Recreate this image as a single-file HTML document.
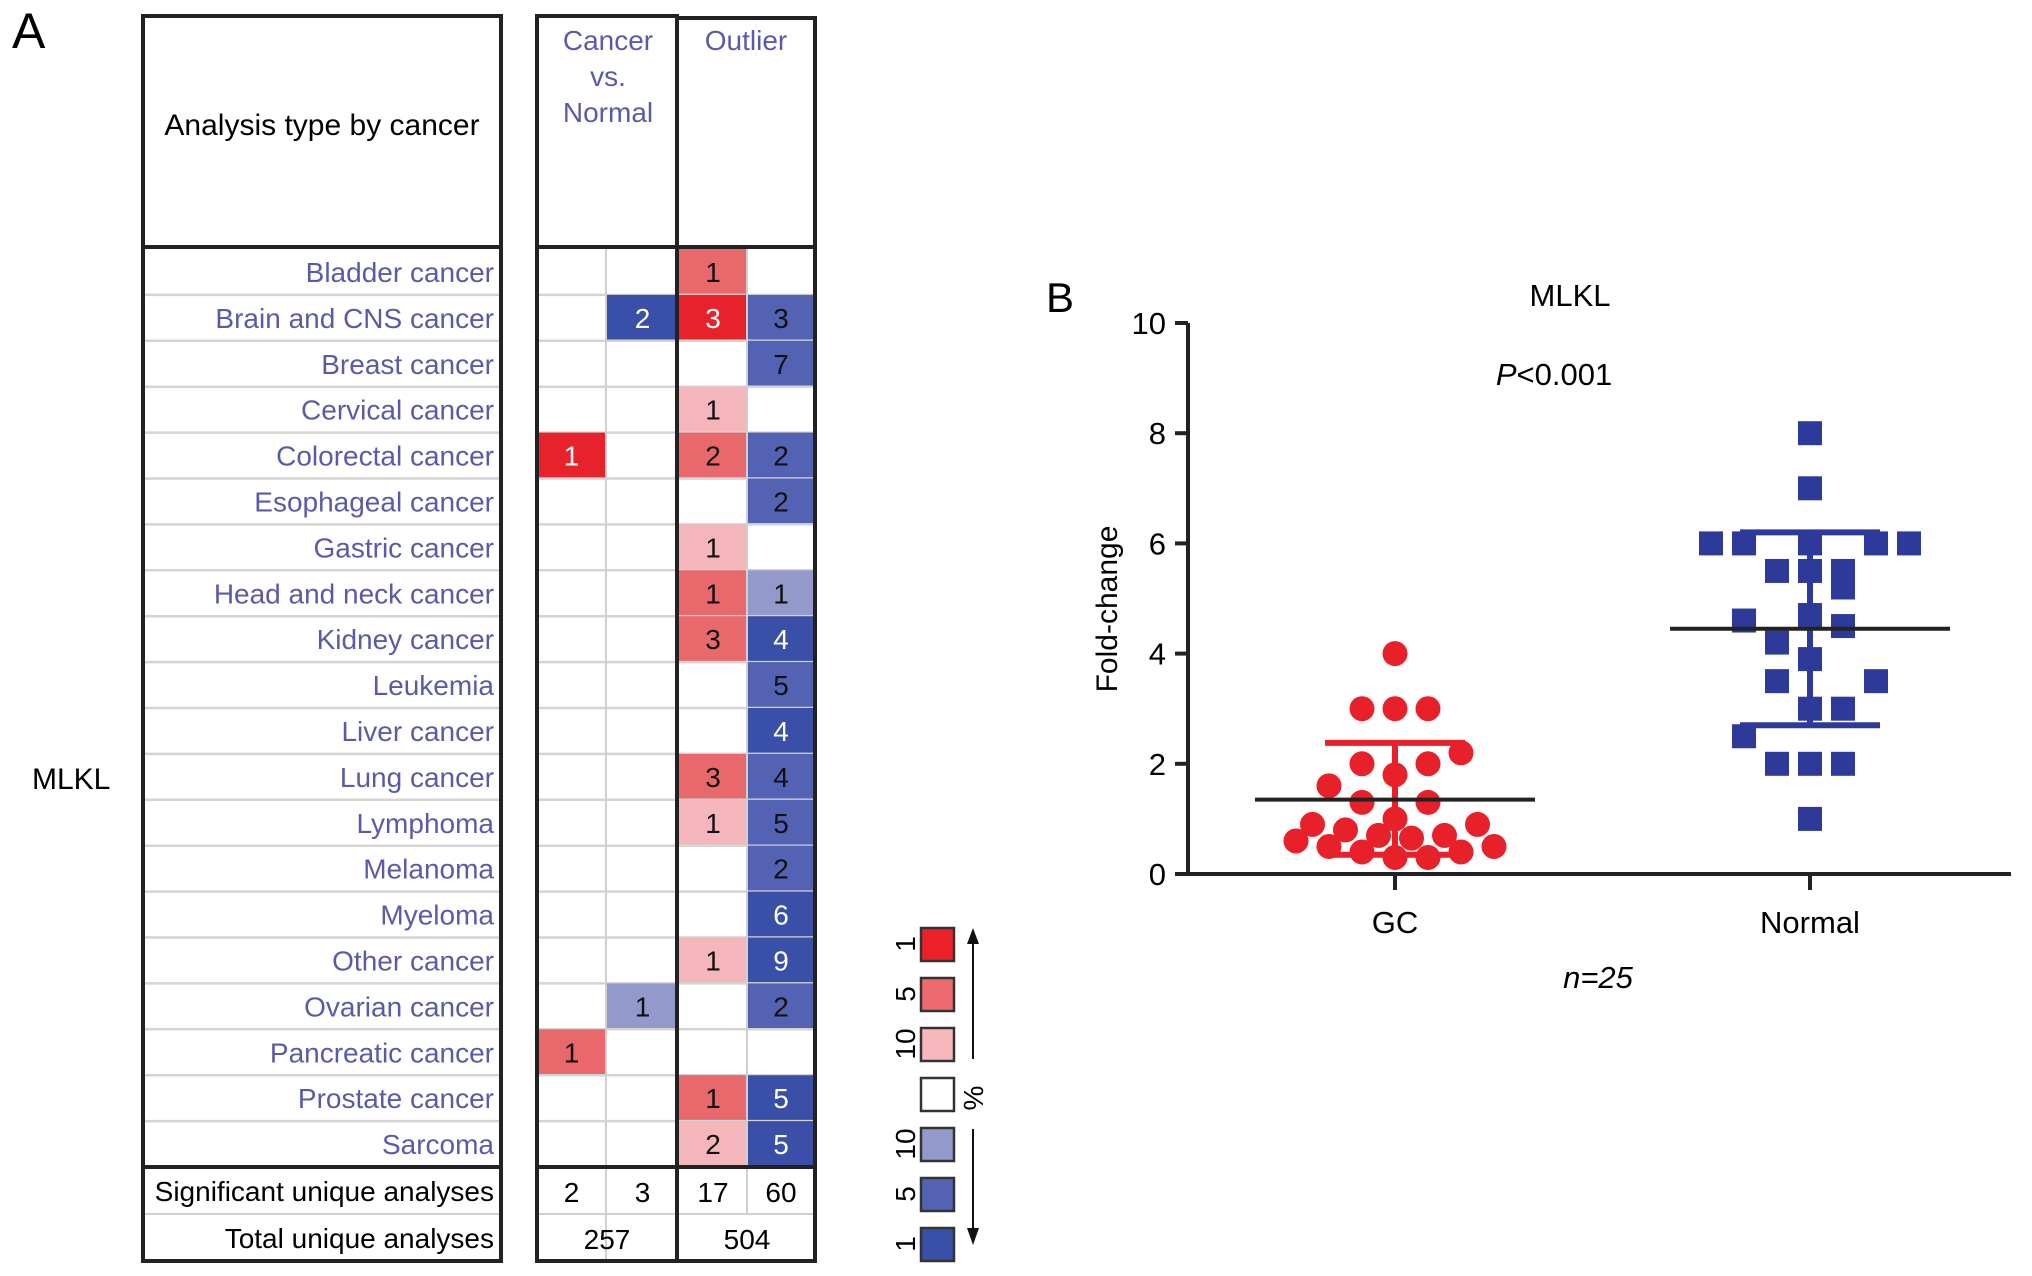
<!DOCTYPE html>
<html><head><meta charset="utf-8"><style>
html,body{margin:0;padding:0;background:#fff;}
svg{display:block;font-family:"Liberation Sans",Arial,sans-serif;}
</style></head><body>
<svg id="fig" width="2032" height="1276" viewBox="0 0 2032 1276" xmlns="http://www.w3.org/2000/svg">
<text x="12" y="48" font-size="50">A</text>
<text x="32" y="789" font-size="30">MLKL</text>
<g id="tableA"></g>
<g id="legendA"></g>
<text x="1046" y="312" font-size="42">B</text>
<g id="chartB"></g>
</svg>
<script>
const cancers=["Bladder cancer","Brain and CNS cancer","Breast cancer","Cervical cancer","Colorectal cancer","Esophageal cancer","Gastric cancer","Head and neck cancer","Kidney cancer","Leukemia","Liver cancer","Lung cancer","Lymphoma","Melanoma","Myeloma","Other cancer","Ovarian cancer","Pancreatic cancer","Prostate cancer","Sarcoma"];
const cvnUp=[null,null,null,null,["1","r1"],null,null,null,null,null,null,null,null,null,null,null,null,["1","r2"],null,null];
const cvnDown=[null,["2","b1"],null,null,null,null,null,null,null,null,null,null,null,null,null,null,["1","b3"],null,null,null];
const outUp=[["1","r2"],["3","r1"],null,["1","r3"],["2","r2"],null,["1","r3"],["1","r2"],["3","r2"],null,null,["3","r2"],["1","r3"],null,null,["1","r3"],null,null,["1","r2"],["2","r3"]];
const outDown=[null,["3","b2"],["7","b2"],null,["2","b2"],["2","b2"],null,["1","b3"],["4","b1"],["5","b2"],["4","b1"],["4","b2"],["5","b2"],["2","b2"],["6","b1"],["9","b1"],["2","b2"],null,["5","b1"],["5","b1"]];
const sigCounts=["2","3","17","60"];
const totals=["257","504"];
const colors={r1:"#e8222a",r2:"#e8686c",r3:"#f4b6ba",b1:"#3a50a8",b2:"#5462b4",b3:"#9499cc"};
const NS="http://www.w3.org/2000/svg";
function mk(tag,attrs,parent,txt){const e=document.createElementNS(NS,tag);for(const k in attrs)e.setAttribute(k,attrs[k]);if(txt!==undefined)e.textContent=txt;parent.appendChild(e);return e;}
const T=document.getElementById('tableA');
const top0=249,rowH=45.9;
const colX=[537,606,679,747,815];
const labCol="#5a5aaa";
let t=mk('text',{x:322,y:135,'font-size':30,'text-anchor':'middle'},T,"Analysis type by cancer");


["Cancer","vs.","Normal"].forEach((s,i)=>{const e=mk('text',{x:608,y:50+i*36,'font-size':28,'text-anchor':'middle',fill:labCol},T,s);

});
t=mk('text',{x:746,y:50,'font-size':28,'text-anchor':'middle',fill:labCol},T,"Outlier");


const cols=[cvnUp,cvnDown,outUp,outDown];
cancers.forEach((c,i)=>{
  const y=top0+i*rowH;
  if(i>0){mk('line',{x1:143,x2:501,y1:y,y2:y,stroke:'#d4d4d4','stroke-width':2.5},T);mk('line',{x1:537,x2:815,y1:y,y2:y,stroke:'#d4d4d4','stroke-width':2.5},T);}
  const l=mk('text',{x:494,y:y+rowH/2+10,'font-size':28,'text-anchor':'end',fill:labCol},T,c);
  
  
  cols.forEach((col,j)=>{const v=col[i];if(!v)return;
    const r=mk('rect',{x:colX[j],y:y,width:colX[j+1]-colX[j],height:rowH,fill:colors[v[1]]},T);
    
    
    const white=(v[1]==='r1'||v[1]==='b1');
    mk('text',{x:(colX[j]+colX[j+1])/2,y:y+rowH/2+10,'font-size':28,'text-anchor':'middle',fill:white?'#fff':'#111'},T,v[0]);
  });
});
const yb=top0+20*rowH;
mk('line',{x1:606,x2:606,y1:247,y2:1261,stroke:'#d0d0d0','stroke-width':2},T);
mk('line',{x1:747,x2:747,y1:247,y2:1214,stroke:'#d0d0d0','stroke-width':2},T);
mk('line',{x1:143,x2:501,y1:1214,y2:1214,stroke:'#d0d0d0','stroke-width':2},T);
mk('line',{x1:537,x2:815,y1:1214,y2:1214,stroke:'#d0d0d0','stroke-width':2},T);
t=mk('text',{x:494,y:1201,'font-size':28,'text-anchor':'end'},T,"Significant unique analyses");


t=mk('text',{x:494,y:1248,'font-size':28,'text-anchor':'end'},T,"Total unique analyses");


sigCounts.forEach((s,j)=>mk('text',{x:(colX[j]+colX[j+1])/2,y:1202,'font-size':28,'text-anchor':'middle'},T,s));
mk('text',{x:607,y:1249,'font-size':28,'text-anchor':'middle'},T,totals[0]);
mk('text',{x:747,y:1249,'font-size':28,'text-anchor':'middle'},T,totals[1]);
const B={fill:'none',stroke:'#222','stroke-width':4};
mk('rect',Object.assign({x:143,y:16,width:358,height:1245},B),T);
mk('rect',Object.assign({x:537,y:16,width:140,height:1245},B),T);
mk('rect',Object.assign({x:677,y:18,width:138,height:1243},B),T);
mk('line',{x1:143,x2:501,y1:247,y2:247,stroke:'#222','stroke-width':4},T);
mk('line',{x1:537,x2:815,y1:247,y2:247,stroke:'#222','stroke-width':4},T);
mk('line',{x1:143,x2:501,y1:yb,y2:yb,stroke:'#222','stroke-width':4},T);
mk('line',{x1:537,x2:815,y1:yb,y2:yb,stroke:'#222','stroke-width':4},T);
const L=document.getElementById('legendA');
const legFill=["#ec2028","#ec6a70","#f6b8bc","#ffffff","#9499cc","#5462b4","#3a50a8"];
const legLab=["1","5","10","","10","5","1"];
legFill.forEach((f,i)=>{const y=928+i*50;
  const r=mk('rect',{x:921,y:y,width:33,height:33,fill:f,stroke:'#333','stroke-width':2.5},L);
  
  
  if(legLab[i])mk('text',{x:0,y:0,'font-size':28,'text-anchor':'middle',transform:`translate(915,${y+16}) rotate(-90)`},L,legLab[i]);
});
mk('line',{x1:973,x2:973,y1:1059,y2:940,stroke:'#111','stroke-width':2},L);
mk('polygon',{points:'967,944 979,944 973,928',fill:'#111'},L);
mk('line',{x1:973,x2:973,y1:1129,y2:1232,stroke:'#111','stroke-width':2},L);
mk('polygon',{points:'967,1228 979,1228 973,1245',fill:'#111'},L);
mk('text',{x:0,y:0,'font-size':28,'text-anchor':'middle',transform:'translate(983,1098) rotate(-90)'},L,"%");

const groups=["GC","Normal"];
const gcX=[0,-1,0,1,2,-1,1,0,-2,-1,1,0,-2.5,2.5,-1.5,-0.5,0.5,1.5,-3,-2,3,-1,2,0,1];
const gcY=[4,3,3,3,2.2,2,2,1.8,1.6,1.3,1.3,1.0,0.9,0.9,0.8,0.7,0.65,0.7,0.6,0.5,0.5,0.4,0.4,0.3,0.3];
const nX=[0,0,-3,-2,0,2,3,-1,0,1,1,0,-2,1,-1,0,-1,2,0,1,-2,-1,0,1,0];
const nY=[8,7,6,6,6,6,6,5.5,5.5,5.5,5.2,4.7,4.6,4.5,4.2,3.9,3.5,3.5,3.0,3.0,2.5,2.0,2.0,2.0,1.0];
const means=[1.35,4.45];
const sdLow=[0.35,2.7];
const sdHigh=[2.38,6.2];
const yTicks=[0,2,4,6,8,10];
const C=document.getElementById('chartB');
const x0=1188,x1=2011,yZero=874,yTen=323;
const ys=v=>yZero+(yTen-yZero)*v/10;
const gx=[1395,1810];
const dx=33;
mk('line',{x1:x0,x2:x0,y1:yTen,y2:yZero+2,stroke:'#222','stroke-width':4},C);
mk('line',{x1:x0-2,x2:x1,y1:yZero,y2:yZero,stroke:'#222','stroke-width':4},C);
yTicks.forEach(v=>{mk('line',{x1:x0-13,x2:x0,y1:ys(v),y2:ys(v),stroke:'#222','stroke-width':4},C);
  const e=mk('text',{x:x0-22,y:ys(v)+11,'font-size':31,'text-anchor':'end'},C,String(v));
  
  });
groups.forEach((g,i)=>{mk('line',{x1:gx[i],x2:gx[i],y1:yZero,y2:yZero+16,stroke:'#222','stroke-width':4},C);
  const e=mk('text',{x:gx[i],y:933,'font-size':31,'text-anchor':'middle'},C,g);
  
  });
t=mk('text',{x:0,y:0,'font-size':30,'text-anchor':'middle',transform:'translate(1117,609) rotate(-90)'},C,"Fold-change");


t=mk('text',{x:1570,y:306,'font-size':31,'text-anchor':'middle'},C,"MLKL");


t=mk('text',{x:1554,y:385,'font-size':31,'text-anchor':'middle'},C);
t.innerHTML='<tspan font-style="italic">P</tspan>&lt;0.001';


t=mk('text',{x:1598,y:988,'font-size':31,'text-anchor':'middle','font-style':'italic'},C,"n=25");


gcX.forEach((o,i)=>{const e=mk('circle',{cx:gx[0]+o*dx,cy:ys(gcY[i]),r:12.5,fill:'#e8202a'},C);
  
  });
nX.forEach((o,i)=>{const e=mk('rect',{x:gx[1]+o*dx-12,y:ys(nY[i])-12,width:24,height:24,fill:'#2e3a9a'},C);
  
  });
const sdCol=["#e8202a","#2e3a9a"];
groups.forEach((g,i)=>{
  mk('line',{x1:gx[i],x2:gx[i],y1:ys(sdLow[i]),y2:ys(sdHigh[i]),stroke:sdCol[i],'stroke-width':6},C);
  [sdLow[i],sdHigh[i]].forEach(v=>mk('line',{x1:gx[i]-70,x2:gx[i]+70,y1:ys(v),y2:ys(v),stroke:sdCol[i],'stroke-width':6},C));
  const m=mk('line',{x1:gx[i]-140,x2:gx[i]+140,y1:ys(means[i]),y2:ys(means[i]),stroke:'#222','stroke-width':4},C);
  
  
});
</script>
</body></html>
